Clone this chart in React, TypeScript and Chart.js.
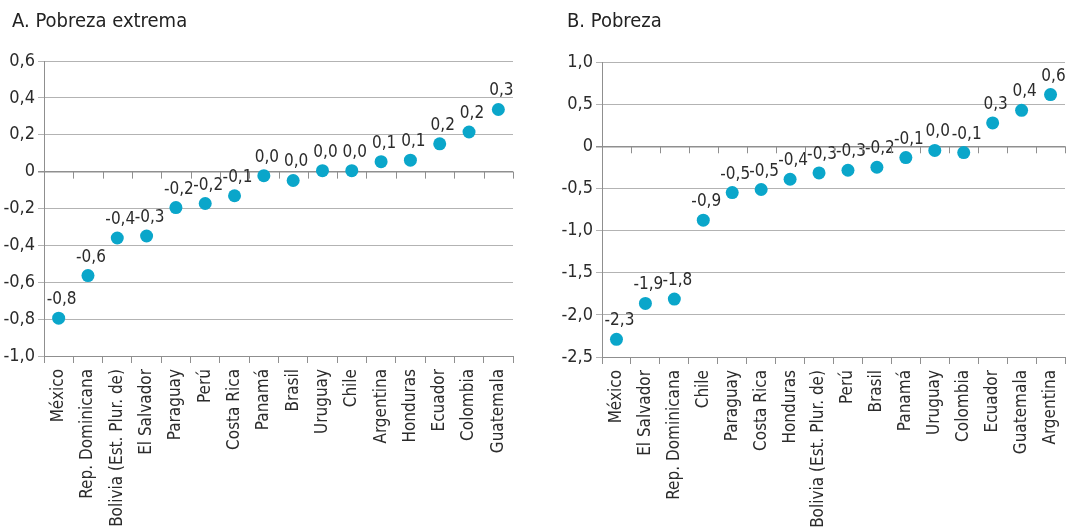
import React, { useEffect, useRef } from "react";
import { Chart, registerables } from "chart.js";

Chart.register(...registerables);

const FONT = "'Liberation Sans Narrow', 'DejaVu Sans Condensed', 'Roboto Condensed', Roboto, sans-serif";

const titleA = "A. Pobreza extrema";
const categoriesA = ["México", "Rep. Dominicana", "Bolivia (Est. Plur. de)", "El Salvador", "Paraguay", "Perú", "Costa Rica", "Panamá", "Brasil", "Uruguay", "Chile", "Argentina", "Honduras", "Ecuador", "Colombia", "Guatemala"];
const valuesA = [-0.795, -0.564, -0.36, -0.349, -0.195, -0.173, -0.131, -0.022, -0.048, 0.005, 0.005, 0.054, 0.062, 0.151, 0.215, 0.337];
const ticksA = [0.6, 0.4, 0.2, 0, -0.2, -0.4, -0.6, -0.8, -1.0];

const titleB = "B. Pobreza";
const categoriesB = ["México", "El Salvador", "Rep. Dominicana", "Chile", "Paraguay", "Costa Rica", "Honduras", "Bolivia (Est. Plur. de)", "Perú", "Brasil", "Panamá", "Uruguay", "Colombia", "Ecuador", "Guatemala", "Argentina"];
const valuesB = [-2.29, -1.864, -1.813, -0.877, -0.549, -0.513, -0.391, -0.316, -0.284, -0.249, -0.134, -0.049, -0.075, 0.277, 0.427, 0.613];
const ticksB = [1.0, 0.5, 0, -0.5, -1.0, -1.5, -2.0, -2.5];

const DOT = "#0aa6ca";
const GRID = "#b3b3b3";
const AXIS = "#8f8f8f";
const TEXT = "#2b2b2b";

function fmtTick(v: number): string {
  if (Math.abs(v) < 1e-9) return "0";
  return v.toFixed(1).replace(".", ",");
}
function fmtLabel(v: number): string {
  const r = Math.round(v * 10) / 10;
  if (r === 0) return "0,0";
  return r.toFixed(1).replace(".", ",");
}

const pointLabels = {
  id: "pointLabels",
  afterDatasetsDraw(chart: any) {
    const ctx = chart.ctx;
    const meta = chart.getDatasetMeta(0);
    const data = chart.data.datasets[0].data;
    ctx.save();
    ctx.font = `17px ${FONT}`;
    ctx.fillStyle = TEXT;
    ctx.textAlign = "center";
    ctx.textBaseline = "alphabetic";
    meta.data.forEach((pt: any, i: number) => {
      ctx.fillText(fmtLabel(data[i]), pt.x + 3, pt.y - 14);
    });
    ctx.restore();
  },
};

const zeroTicks = {
  id: "zeroTicks",
  afterDraw(chart: any) {
    const x = chart.scales.x;
    const y = chart.scales.y;
    const y0 = y.getPixelForValue(0);
    const n = chart.data.labels.length;
    const ctx = chart.ctx;
    ctx.save();
    ctx.strokeStyle = AXIS;
    ctx.lineWidth = 1;
    for (let i = 0; i <= n; i++) {
      const px = Math.round(x.left + (i * (x.right - x.left)) / n) + 0.5;
      ctx.beginPath();
      ctx.moveTo(px, y0);
      ctx.lineTo(px, y0 + 7);
      ctx.stroke();
    }
    ctx.restore();
  },
};

type PanelProps = {
  title: string;
  categories: string[];
  values: number[];
  ticks: number[];
  left: number;
  width: number;
  yWidth: number;
  plotTop: number;
  plotBottom: number;
  rightPad: number;
  titleLeft: number;
};

function Panel(p: PanelProps) {
  const ref = useRef<HTMLCanvasElement | null>(null);
  useEffect(() => {
    if (!ref.current) return;
    const H = 529;
    const chart = new Chart(ref.current, {
      type: "line",
      data: {
        labels: p.categories,
        datasets: [
          {
            data: p.values,
            showLine: false,
            pointRadius: 6.5,
            pointHoverRadius: 6.5,
            pointBackgroundColor: DOT,
            pointBorderColor: DOT,
            pointBorderWidth: 0,
            clip: false as any,
          },
        ],
      },
      options: {
        animation: false,
        responsive: true,
        maintainAspectRatio: false,
        layout: { padding: { top: p.plotTop, right: p.rightPad, left: 0, bottom: 0 } },
        plugins: { legend: { display: false }, tooltip: { enabled: false }, title: { display: false } },
        scales: {
          x: {
            type: "category",
            offset: true,
            grid: { display: true, offset: true, drawOnChartArea: false, drawTicks: true, tickLength: 7, color: AXIS },
            border: { display: true, color: AXIS },
            ticks: {
              autoSkip: false,
              maxRotation: 90,
              minRotation: 90,
              padding: 6,
              color: TEXT,
              font: { family: FONT, size: 17 },
            },
            afterFit: (s: any) => {
              s.height = H - p.plotBottom;
            },
          },
          y: {
            type: "linear",
            min: p.ticks[p.ticks.length - 1],
            max: p.ticks[0],
            afterBuildTicks: (s: any) => {
              s.ticks = p.ticks.map((v) => ({ value: v }));
            },
            grid: {
              color: (c: any) => (c.tick && Math.abs(c.tick.value) < 1e-9 ? AXIS : GRID),
              lineWidth: (c: any) => (c.tick && Math.abs(c.tick.value) < 1e-9 ? 1.5 : 1),
              drawTicks: true,
              tickLength: 6,
            },
            border: { display: true, color: AXIS },
            ticks: {
              color: TEXT,
              padding: 3,
              font: { family: FONT, size: 18 },
              callback: (v: any) => fmtTick(Number(v)),
            },
            afterFit: (s: any) => {
              s.width = p.yWidth;
            },
          },
        },
      },
      plugins: [pointLabels, zeroTicks],
    });
    return () => chart.destroy();
  }, []);
  return (
    <div style={{ position: "absolute", left: p.left, top: 0, width: p.width, height: 529 }}>
      <div
        style={{
          position: "absolute",
          left: p.titleLeft,
          top: 9,
          fontFamily: FONT,
          fontSize: 20,
          lineHeight: "22px",
          color: "#222",
          whiteSpace: "nowrap",
        }}
      >
        {p.title}
      </div>
      <canvas ref={ref} />
    </div>
  );
}

export default function App() {
  return (
    <div style={{ position: "fixed", left: 0, top: 0, width: 1089, height: 529, background: "#fff", overflow: "hidden" }}>
      <Panel
        title={titleA}
        categories={categoriesA}
        values={valuesA}
        ticks={ticksA}
        left={0}
        width={540}
        yWidth={44}
        plotTop={61}
        plotBottom={356}
        rightPad={27}
        titleLeft={12}
      />
      <Panel
        title={titleB}
        categories={categoriesB}
        values={valuesB}
        ticks={ticksB}
        left={540}
        width={549}
        yWidth={62}
        plotTop={62}
        plotBottom={357}
        rightPad={24}
        titleLeft={27}
      />
    </div>
  );
}
